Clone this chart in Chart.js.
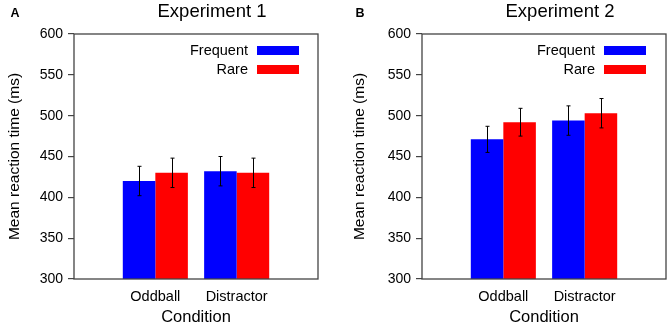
<!DOCTYPE html>
<html>
<head>
<meta charset="utf-8">
<script src="https://cdn.jsdelivr.net/npm/chart.js@4"></script>
<style>
  body { margin: 0; background: #fff; }
  #wrap { position: relative; width: 670px; height: 328px; }
  #wrap canvas { position: absolute; top: 0; }
</style>
</head>
<body>
<div id="wrap">
  <canvas id="chartA" width="335" height="328" style="left:0"></canvas>
  <canvas id="chartB" width="335" height="328" style="left:335px"></canvas>
</div>
<script>
// categories and values
const categories = ["Oddball", "Distractor"];
const seriesNames = ["Frequent", "Rare"];
const seriesColors = ["#0000ff", "#ff0000"];

const exp1Frequent = [420, 432];
const exp1Rare = [430, 430];
const exp1FrequentErr = [18, 18];
const exp1RareErr = [18, 18];

const exp2Frequent = [471, 494];
const exp2Rare = [492, 503];
const exp2FrequentErr = [16, 18];
const exp2RareErr = [17, 18];

const yMin = 300;
const yMax = 600;
const yStep = 50;

const FONT = "'Liberation Sans', Arial, Helvetica, sans-serif";

// pad the category axis with empty slots so the bars sit in the middle
function padded(arr) {
    return [null, ...arr, null];
}

// draws the frame, error bars, legend, title and panel letter
const extras = {
    id: "extras",
    afterDatasetsDraw(chart, args, opts) {
        const ctx = chart.ctx;
        const yScale = chart.scales.y;

        // error bars
        ctx.save();
        ctx.strokeStyle = "#000";
        ctx.lineWidth = 1;
        chart.data.datasets.forEach((ds, i) => {
            const meta = chart.getDatasetMeta(i);
            meta.data.forEach((bar, j) => {
                const v = ds.data[j];
                if (v === null) return;
                const e = ds.errors[j];
                const x = Math.round(bar.x) + 0.5;
                const yTop = yScale.getPixelForValue(v + e);
                const yBot = yScale.getPixelForValue(v - e);
                ctx.beginPath();
                ctx.moveTo(x, yTop);
                ctx.lineTo(x, yBot);
                ctx.moveTo(x - 2, yTop);
                ctx.lineTo(x + 2, yTop);
                ctx.moveTo(x - 2, yBot);
                ctx.lineTo(x + 2, yBot);
                ctx.stroke();
            });
        });
        ctx.restore();
    },
    afterDraw(chart, args, opts) {
        const ctx = chart.ctx;
        const area = chart.chartArea;

        // frame round the plot
        ctx.save();
        ctx.strokeStyle = "#444";
        ctx.lineWidth = 1.3;
        ctx.strokeRect(area.left, area.top, area.right - area.left, area.bottom - area.top);

        // legend inside top right, text left of swatch
        ctx.font = "14.5px " + FONT;
        ctx.textAlign = "right";
        ctx.textBaseline = "middle";
        chart.data.datasets.forEach((ds, i) => {
            const cy = area.top + 16.5 + i * 19;
            ctx.fillStyle = "#000";
            ctx.fillText(ds.label, area.right - opts.legendGap, cy);
            ctx.fillStyle = ds.backgroundColor;
            ctx.fillRect(area.right - opts.legendGap + 9, cy - 4.5, 42, 9);
        });

        // title
        ctx.font = "18.5px " + FONT;
        ctx.textAlign = "center";
        ctx.fillStyle = "#000";
        ctx.fillText(opts.title, (area.left + area.right) / 2 + 16, 12);

        // panel letter
        ctx.font = "bold 12.5px " + FONT;
        ctx.fillText(opts.letter, opts.letterX, 14);
        ctx.restore();
    }
};

function makePanel(id, frequent, rare, freqErr, rareErr, title, letter, letterX, axisWidth, titlePad, rightPad, legendGap) {
    new Chart(document.getElementById(id), {
        type: "bar",
        data: {
            labels: ["", ...categories, ""],
            datasets: [{
                label: seriesNames[0],
                data: padded(frequent),
                errors: padded(freqErr),
                backgroundColor: seriesColors[0],
                categoryPercentage: 0.8,
                barPercentage: 1.0
            }, {
                label: seriesNames[1],
                data: padded(rare),
                errors: padded(rareErr),
                backgroundColor: seriesColors[1],
                categoryPercentage: 0.8,
                barPercentage: 1.0
            }]
        },
        options: {
            responsive: false,
            animation: false,
            devicePixelRatio: 1,
            layout: {
                padding: { top: 34, right: rightPad, bottom: 0, left: 0 }
            },
            plugins: {
                legend: { display: false },
                tooltip: { enabled: false },
                extras: { title: title, letter: letter, letterX: letterX, legendGap: legendGap }
            },
            scales: {
                x: {
                    offset: false,
                    grid: { display: false },
                    border: { display: false },
                    ticks: {
                        color: "#000",
                        font: { family: FONT, size: 14.5 },
                        padding: 1,
                        maxRotation: 0,
                        autoSkip: false
                    },
                    title: {
                        display: true,
                        text: "Condition",
                        color: "#000",
                        font: { family: FONT, size: 16.5 },
                        padding: { top: 0, bottom: 1 }
                    },
                    afterFit(scale) { scale.height = 49; }
                },
                y: {
                    min: yMin,
                    max: yMax,
                    grid: {
                        display: true,
                        drawOnChartArea: false,
                        drawTicks: true,
                        tickLength: 6,
                        color: "#444",
                        lineWidth: 1.2
                    },
                    border: { display: false },
                    ticks: {
                        stepSize: yStep,
                        color: "#000",
                        font: { family: FONT, size: 14 },
                        padding: 5
                    },
                    title: {
                        display: true,
                        text: "Mean reaction time (ms)",
                        color: "#000",
                        font: { family: FONT, size: 15.5 },
                        padding: { top: titlePad, bottom: 0 }
                    },
                    afterFit(scale) { scale.width = axisWidth; }
                }
            }
        },
        plugins: [extras]
    });
}

makePanel("chartA", exp1Frequent, exp1Rare, exp1FrequentErr, exp1RareErr,
    "Experiment 1", "A", 15, 74, 5.5, 17, 70);
makePanel("chartB", exp2Frequent, exp2Rare, exp2FrequentErr, exp2RareErr,
    "Experiment 2", "B", 25, 87, 15.5, 4, 71);
</script>
</body>
</html>
